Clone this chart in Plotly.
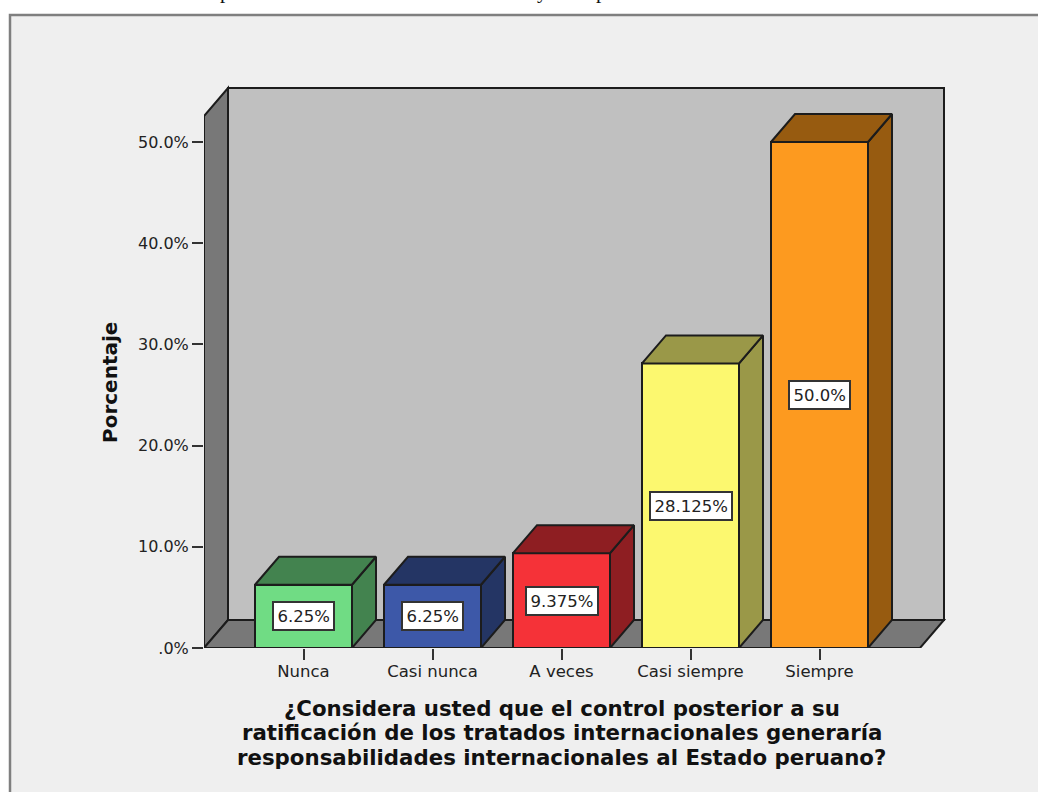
import plotly.graph_objects as go

# ---- data ----
categories = ["Nunca", "Casi nunca", "A veces", "Casi siempre", "Siempre"]
percent = [6.25, 6.25, 9.375, 28.125, 50.0]
value_labels = ["6.25%", "6.25%", "9.375%", "28.125%", "50.0%"]
front_colors = ["#70DC84", "#3D58A8", "#F53238", "#FCF86F", "#FD9A1F"]
shade_colors = ["#43834F", "#243564", "#8E1E22", "#9A9848", "#975B10"]
y_ticks = [0, 10, 20, 30, 40, 50]
y_tick_labels = [".0%", "10.0%", "20.0%", "30.0%", "40.0%", "50.0%"]
x_title_lines = ["¿Considera usted que el control posterior a su",
                 "ratificación de los tratados internacionales generaría",
                 "responsabilidades internacionales al Estado peruano?"]
x_title_rows = [708, 732, 757]
y_title = "Porcentaje"
clipped_text = [("p", 225), ("y", 542), ("p", 601)]

# ---- pixel layout of the scales ----
W, H = 1038, 792
PX_PER_CAT, PX_PER_PCT = 129.0, 10.12
X0_PX, Y0_PX = 303.5, 648.0          # pixel of category 0 / of 0 %
L_PX, R_PX, T_PX = 204.0, 950.0, 84.0  # plot area edges
FRONT_R_PX, FRONT_T_PX = 920.0, 116.0
dx, dy = 24 / PX_PER_CAT, 28 / PX_PER_PCT
bar_w = 97 / PX_PER_CAT
xl = (L_PX - X0_PX) / PX_PER_CAT
xr = (FRONT_R_PX - X0_PX) / PX_PER_CAT
yt = (Y0_PX - FRONT_T_PX) / PX_PER_PCT
positions = list(range(len(categories)))
EDGE = "#1c1c1c"
BG = "#EFEFEF"


def px(x):
    return (x - L_PX) / (R_PX - L_PX)


def py(y):
    return (Y0_PX - y) / (Y0_PX - T_PX)


fig = go.Figure()


def poly(xs, ys, fill):
    return dict(type="path", xref="x", yref="y", layer="below", fillcolor=fill,
                line=dict(color=EDGE, width=2),
                path="M " + " L ".join(f"{a},{b}" for a, b in zip(xs, ys)) + " Z")


shapes = [
    # outer panel
    dict(type="rect", xref="paper", yref="paper", layer="below",
         x0=px(10), x1=px(W + 20), y0=py(H + 20), y1=py(15),
         fillcolor=BG, line=dict(color="#7f7f7f", width=2.5)),
    # back wall, left wall, floor
    poly([xl + dx, xr + dx, xr + dx, xl + dx], [dy, dy, yt + dy, yt + dy], "#C0C0C0"),
    poly([xl, xl + dx, xl + dx, xl], [0, dy, yt + dy, yt], "#787878"),
    poly([xl, xr, xr + dx, xl + dx], [0, 0, dy, dy], "#787878"),
]

# front faces
fig.add_trace(go.Bar(x=positions, y=percent, width=bar_w, marker=dict(
    color=front_colors, line=dict(color=EDGE, width=2)), hoverinfo="skip"))

# side and top faces
for p, v, c in zip(positions, percent, shade_colors):
    a, b = p - bar_w / 2, p + bar_w / 2
    fig.add_trace(go.Scatter(x=[b, b + dx, b + dx, b, b], y=[0, dy, v + dy, v, 0],
                             mode="lines", fill="toself", fillcolor=c,
                             line=dict(color=EDGE, width=2), hoverinfo="skip"))
    fig.add_trace(go.Scatter(x=[a, a + dx, b + dx, b, a], y=[v, v + dy, v + dy, v, v],
                             mode="lines", fill="toself", fillcolor=c,
                             line=dict(color=EDGE, width=2), hoverinfo="skip"))

# front edges that lie on the axis limits
fig.add_trace(go.Scatter(x=[xl, xl, xr], y=[yt, 0, 0], mode="lines", cliponaxis=False,
                         line=dict(color=EDGE, width=2), hoverinfo="skip"))

annotations = []
for p, v, t in zip(positions, percent, value_labels):
    annotations.append(dict(x=p, y=v / 2, xref="x", yref="y", text=t, showarrow=False,
                            font=dict(family="DejaVu Sans", size=16.5, color="#222222"),
                            bgcolor="white", bordercolor="#333333", borderwidth=2,
                            borderpad=3.5))
for line, row in zip(x_title_lines, x_title_rows):
    annotations.append(dict(x=px(561.5), y=py(row), xref="paper", yref="paper", text=line,
                            showarrow=False, align="center", xanchor="center", yanchor="middle",
                            font=dict(family="DejaVu Sans", size=21.3, color="#111111",
                                      weight="bold")))
annotations.append(dict(x=px(110), y=py(383), xref="paper", yref="paper", text=y_title,
                        showarrow=False, textangle=-90, xanchor="center", yanchor="middle",
                        font=dict(family="DejaVu Sans", size=20, color="#111111", weight="bold")))
for ch, xp in clipped_text:
    annotations.append(dict(x=px(xp), y=py(4.5), xref="paper", yref="paper", text=ch,
                            showarrow=False, xanchor="center", yanchor="bottom",
                            font=dict(family="Liberation Serif", size=21, color="#111111")))

fig.update_layout(
    width=W, height=H, autosize=False, showlegend=False, hovermode=False,
    paper_bgcolor="white", plot_bgcolor="rgba(0,0,0,0)",
    margin=dict(l=L_PX, r=W - R_PX, t=T_PX, b=H - Y0_PX, pad=0),
    shapes=shapes, annotations=annotations, bargap=0,
    xaxis=dict(range=[xl, (R_PX - X0_PX) / PX_PER_CAT], tickvals=positions, ticktext=categories,
               showgrid=False, zeroline=False, showline=False, ticks="outside", ticklen=11,
               tickwidth=2, tickcolor="#333333", ticklabelstandoff=-3,
               tickfont=dict(family="DejaVu Sans", size=16.5, color="#222222")),
    yaxis=dict(range=[0, (Y0_PX - T_PX) / PX_PER_PCT], tickvals=y_ticks, ticktext=y_tick_labels,
               showgrid=False, zeroline=False, showline=False, ticks="outside", ticklen=11,
               tickwidth=2, tickcolor="#333333",
               tickfont=dict(family="DejaVu Sans", size=16, color="#222222")),
)

fig.write_html("out.html", config=dict(displayModeBar=False),
               post_script="document.body.style.margin='0';document.body.style.overflow='hidden';")
